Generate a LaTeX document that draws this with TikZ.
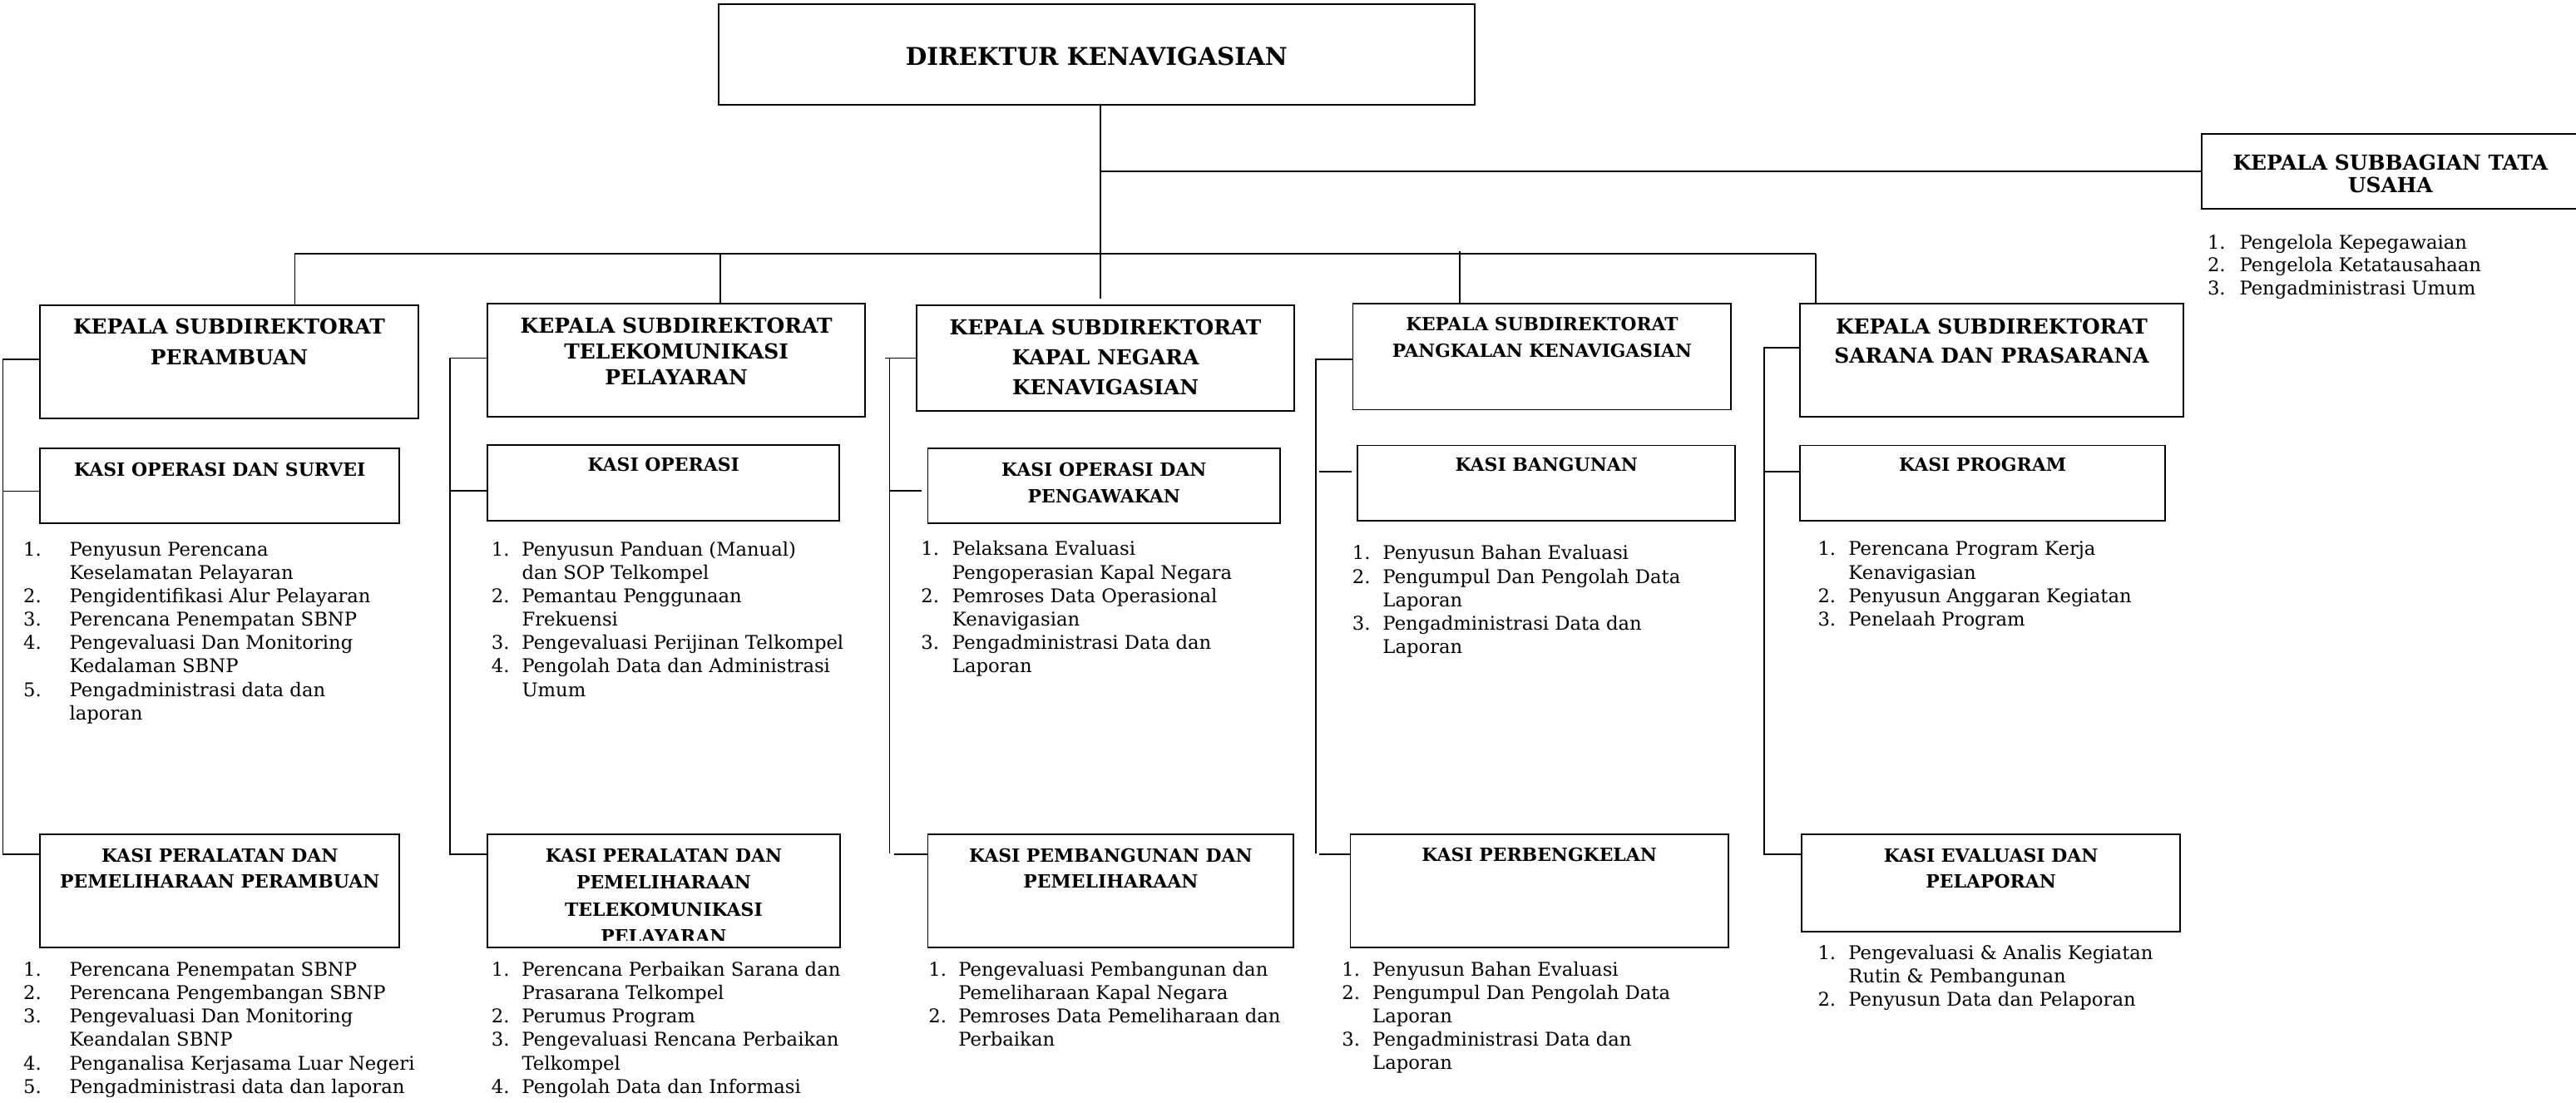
\documentclass[tikz,border=0pt]{standalone}
\usepackage{fontspec}
\setmainfont{DejaVu Serif}
\usetikzlibrary{fit}

\newcommand\hdtx[3]{{\fontsize{#1}{#2}\selectfont\bfseries\begin{tabular}[t]{@{}c@{}}#3\end{tabular}}}
\newcommand\lstx[3]{{\fontsize{11.5}{#2}\selectfont\begin{tabular}[t]{@{}p{#1}@{}l@{}}#3\end{tabular}}}

\tikzset{
  box/.style={draw, line width=0.9pt, inner sep=0pt},
  txt/.style={inner sep=0pt, anchor=base},
  lt/.style={inner sep=0pt, anchor=base west},
  wire/.style={line width=0.85pt},
  bus/.style={line width=0.95pt},
}

\begin{document}
\begin{tikzpicture}[x=1pt,y=-1pt]
\useasboundingbox (0,0) rectangle (1568,671.35);

% ---------- top ----------
\node[box, fit={(437.5,2.4) (897.6,63.6)}] (dir) {};
\node[txt] (dirt) at (667.5,39.6) {\hdtx{14.9}{18}{DIREKTUR KENAVIGASIAN}};

\node[box, fit={(1340.3,81.4) (1580,126.9)}] (tu) {};
\node[txt] (tut) at (1455,103.5) {\hdtx{12.6}{13.5}{KEPALA SUBBAGIAN TATA\\USAHA}};
\node[lt] (tul) at (1343.5,151.5) {\lstx{19.5pt}{14}{1.&Pengelola Kepegawaian\\2.&Pengelola Ketatausahaan\\3.&Pengadministrasi Umum}};

% ---------- kepala subdirektorat ----------
\node[box, fit={(24.4,185.7) (254.6,254.8)}] (k1) {};
\node[txt] (k1t) at (139.5,203.4) {\hdtx{12.6}{18.8}{KEPALA SUBDIREKTORAT\\PERAMBUAN}};
\node[box, fit={(296.7,184.8) (526.6,253.5)}] (k2) {};
\node[txt] (k2t) at (411.7,202.9) {\hdtx{12.6}{15.65}{KEPALA SUBDIREKTORAT\\TELEKOMUNIKASI\\PELAYARAN}};
\node[box, fit={(557.9,185.7) (787.9,250.3)}] (k3) {};
\node[txt] (k3t) at (672.9,203.8) {\hdtx{12.6}{18.1}{KEPALA SUBDIREKTORAT\\KAPAL NEGARA\\KENAVIGASIAN}};
\node[box, fit={(823.5,184.8) (1053.7,249.4)}] (k4) {};
\node[txt] (k4t) at (938.6,201.5) {\hdtx{11}{16}{KEPALA SUBDIREKTORAT\\PANGKALAN KENAVIGASIAN}};
\node[box, fit={(1095.5,184.8) (1329,253.5)}] (k5) {};
\node[txt] (k5t) at (1212.3,203.4) {\hdtx{12.6}{17.6}{KEPALA SUBDIREKTORAT\\SARANA DAN PRASARANA}};

% ---------- kasi row 1 ----------
\node[box, fit={(24.4,273) (243.2,318.6)}] (a1) {};
\node[txt] (a1t) at (133.8,289.7) {\hdtx{11.1}{16}{KASI OPERASI DAN SURVEI}};
\node[box, fit={(296.7,270.7) (511,316.8)}] (a2) {};
\node[txt] (a2t) at (403.9,286.8) {\hdtx{11.1}{16}{KASI OPERASI}};
\node[box, fit={(564.8,273) (779.3,318.6)}] (a3) {};
\node[txt] (a3t) at (672,289.7) {\hdtx{11.1}{16.3}{KASI OPERASI DAN\\PENGAWAKAN}};
\node[box, fit={(826.3,271.1) (1056.3,316.8)}] (a4) {};
\node[txt] (a4t) at (941.3,286.8) {\hdtx{11.1}{16}{KASI BANGUNAN}};
\node[box, fit={(1095.5,271.1) (1318,316.8)}] (a5) {};
\node[txt] (a5t) at (1206.8,286.8) {\hdtx{11.1}{16}{KASI PROGRAM}};

% ---------- lists row 1 ----------
\node[lt] (l1a) at (14.1,338.3) {\lstx{28pt}{14.25}{1.&Penyusun Perencana\\&Keselamatan Pelayaran\\2.&Pengidentifikasi Alur Pelayaran\\3.&Perencana Penempatan SBNP\\4.&Pengevaluasi Dan Monitoring\\&Kedalaman SBNP\\5.&Pengadministrasi data dan\\&laporan}};
\node[lt] (l2a) at (299,338.3) {\lstx{18.5pt}{14.25}{1.&Penyusun Panduan (Manual)\\&dan SOP Telkompel\\2.&Pemantau Penggunaan\\&Frekuensi\\3.&Pengevaluasi Perijinan Telkompel\\4.&Pengolah Data dan Administrasi\\&Umum}};
\node[lt] (l3a) at (560.5,338.2) {\lstx{19pt}{14.25}{1.&Pelaksana Evaluasi\\&Pengoperasian Kapal Negara\\2.&Pemroses Data Operasional\\&Kenavigasian\\3.&Pengadministrasi Data dan\\&Laporan}};
\node[lt] (l4a) at (823,340.7) {\lstx{18.5pt}{14.25}{1.&Penyusun Bahan Evaluasi\\2.&Pengumpul Dan Pengolah Data\\&Laporan\\3.&Pengadministrasi Data dan\\&Laporan}};
\node[lt] (l5a) at (1106.3,338.2) {\lstx{18.7pt}{14.25}{1.&Perencana Program Kerja\\&Kenavigasian\\2.&Penyusun Anggaran Kegiatan\\3.&Penelaah Program}};

% ---------- kasi row 2 ----------
\node[box, fit={(24.4,507.7) (243.1,576.8)}] (b1) {};
\node[txt] (b1t) at (133.8,524.6) {\hdtx{11.1}{16.1}{KASI PERALATAN DAN\\PEMELIHARAAN PERAMBUAN}};
\node[box, fit={(296.7,507.7) (511.2,576.8)}] (b2) {};
\begin{scope}
  \clip (b2.north west) rectangle ([yshift=4.8pt]b2.south east);
  \node[txt] (b2t) at (404,524.6) {\hdtx{11.1}{16.5}{KASI PERALATAN DAN\\PEMELIHARAAN\\TELEKOMUNIKASI\\PELAYARAN}};
\end{scope}
\node[box, fit={(564.8,507.7) (787.4,576.8)}] (b3) {};
\node[txt] (b3t) at (676.1,524.6) {\hdtx{11.1}{16.1}{KASI PEMBANGUNAN DAN\\PEMELIHARAAN}};
\node[box, fit={(822,507.7) (1052,576.8)}] (b4) {};
\node[txt] (b4t) at (937,524.3) {\hdtx{11.1}{16}{KASI PERBENGKELAN}};
\node[box, fit={(1096.7,507.7) (1327,567)}] (b5) {};
\node[txt] (b5t) at (1211.9,524.6) {\hdtx{11.1}{16.1}{KASI EVALUASI DAN\\PELAPORAN}};

% ---------- lists row 2 ----------
\node[lt] (l1b) at (14.1,594.1) {\lstx{28pt}{14.25}{1.&Perencana Penempatan SBNP\\2.&Perencana Pengembangan SBNP\\3.&Pengevaluasi Dan Monitoring\\&Keandalan SBNP\\4.&Penganalisa Kerjasama Luar Negeri\\5.&Pengadministrasi data dan laporan}};
\node[lt] (l2b) at (299,594.1) {\lstx{18.5pt}{14.25}{1.&Perencana Perbaikan Sarana dan\\&Prasarana Telkompel\\2.&Perumus Program\\3.&Pengevaluasi Rencana Perbaikan\\&Telkompel\\4.&Pengolah Data dan Informasi}};
\node[lt] (l3b) at (565,594.1) {\lstx{18.2pt}{14.25}{1.&Pengevaluasi Pembangunan dan\\&Pemeliharaan Kapal Negara\\2.&Pemroses Data Pemeliharaan dan\\&Perbaikan}};
\node[lt] (l4b) at (816.6,594) {\lstx{18.7pt}{14.25}{1.&Penyusun Bahan Evaluasi\\2.&Pengumpul Dan Pengolah Data\\&Laporan\\3.&Pengadministrasi Data dan\\&Laporan}};
\node[lt] (l5b) at (1106.3,584) {\lstx{18.7pt}{14.25}{1.&Pengevaluasi \& Analis Kegiatan\\&Rutin \& Pembangunan\\2.&Penyusun Data dan Pelaporan}};

% ---------- main connectors ----------
\coordinate (j3) at (669.7,182);
\coordinate (bl) at (179.4,154.4);
\coordinate (br) at (1105.4,154.4);
\coordinate (d2) at (438.3,154.4);
\coordinate (d4) at (888.6,152.7);
\draw[wire] (dir.south -| j3) -- (j3);
\draw[bus] (tu.west -| j3) -- (tu.west);
\draw[bus] (bl) -- (br);
\draw[wire] (bl) -- (bl |- k1.north);
\draw[wire] (d2) -- (d2 |- k2.north);
\draw[wire] (d4) -- (d4 |- k4.north);
\draw[wire] (br) -- (br |- k5.north);

% ---------- column brackets ----------
% column 1
\coordinate (p1t) at (1.8,218.7);
\coordinate (p1m) at (1.8,299);
\coordinate (p1b) at (1.8,519.8);
\draw[wire] (p1t -| k1.west) -- (p1t) -- (p1b) -- (p1b -| b1.west);
\draw[wire] (p1m) -- (p1m -| a1.west);
% column 2
\coordinate (p2t) at (273.8,218);
\coordinate (p2m) at (273.8,298.7);
\coordinate (p2b) at (273.8,519.8);
\draw[wire] (p2t -| k2.west) -- (p2t) -- (p2b) -- (p2b -| b2.west);
\draw[wire] (p2m) -- (p2m -| a2.west);
% column 3
\coordinate (p3x) at (538.7,218);
\coordinate (p3t) at (541.5,218);
\coordinate (p3m) at (541.5,298.7);
\coordinate (p3me) at (561,298.7);
\coordinate (p3b) at (541.5,519.3);
\coordinate (p3bs) at (544.3,519.8);
\draw[wire] (p3x) -- (p3x -| k3.west);
\draw[wire] (p3t) -- (p3b);
\draw[wire] (p3m) -- (p3me);
\draw[wire] (p3bs) -- (p3bs -| b3.west);
% column 4
\coordinate (p4t) at (801,218.7);
\coordinate (p4b) at (801,519.3);
\coordinate (p4ms) at (803,287);
\coordinate (p4me) at (822.6,287);
\coordinate (p4bs) at (803,519.8);
\draw[wire] (p4t -| k4.west) -- (p4t) -- (p4b);
\draw[wire] (p4ms) -- (p4me);
\draw[wire] (p4bs) -- (p4bs -| b4.west);
% column 5
\coordinate (p5t) at (1073.8,211.6);
\coordinate (p5m) at (1073.8,287);
\coordinate (p5b) at (1073.8,519.8);
\draw[wire] (p5t -| k5.west) -- (p5t) -- (p5b) -- (p5b -| b5.west);
\draw[wire] (p5m) -- (p5m -| a5.west);
\end{tikzpicture}
\end{document}
